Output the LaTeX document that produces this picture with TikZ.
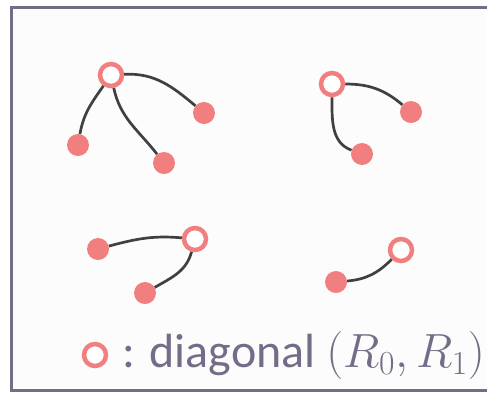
\documentclass[tikz,border=0pt]{standalone}
\usepackage{fix-cm}
\usepackage{fontspec}
\setmainfont{Carlito}
\begin{document}
\begin{tikzpicture}[x=1pt,y=-1pt,
  leaf/.style={circle,fill=nodepink,draw=none,minimum size=22pt,inner sep=0pt},
  diag/.style={circle,fill=white,draw=nodepink,line width=4.5pt,minimum size=22pt,inner sep=0pt},
  link/.style={draw=edgegray,line width=2.7pt}]
\definecolor{nodepink}{HTML}{F27F7F}
\definecolor{edgegray}{HTML}{404040}
\definecolor{framec}{HTML}{756D88}
\definecolor{bgc}{HTML}{FCFCFC}
\useasboundingbox (0,0) rectangle (487,392);
\fill[white] (0,0) rectangle (487,392);
\draw[framec,line width=3.5pt,fill=bgc] (11.5,7.5) rectangle (505,390.5);
% tree 1
\node[diag] (r1) at (111,75) {};
\node[leaf] (a1) at (78,145) {};
\node[leaf] (b1) at (204,113) {};
\node[leaf] (c1) at (164,163) {};
\draw[link] (r1) to[out=-125,in=80] (a1);
\draw[link] (r1) to[out=-78,in=128] (c1);
\draw[link] (r1) to[out=3,in=140] (b1);
% tree 2
\node[diag] (r2) at (332,84) {};
\node[leaf] (a2) at (411,112) {};
\node[leaf] (b2) at (362,154) {};
\draw[link] (r2) to[out=0,in=140] (a2);
\draw[link] (r2) to[out=-90,in=160] (b2);
% tree 3
\node[diag] (r3) at (195,239) {};
\node[leaf] (a3) at (98,249) {};
\node[leaf] (b3) at (145,293) {};
\draw[link] (r3) to[out=175,in=15] (a3);
\draw[link] (r3) to[out=-105,in=30] (b3);
% tree 4
\node[diag] (r4) at (401,250) {};
\node[leaf] (a4) at (336,282) {};
\draw[link] (a4) to[out=5,in=-135] (r4);
% legend
\node[diag] (leg) at (95,355) {};
\node[anchor=base west,inner sep=0pt,text=framec,font=\fontsize{48}{56}\selectfont] (legtext) at (122,367) {: diagonal $(R_0, R_1)$};
\end{tikzpicture}
\end{document}
